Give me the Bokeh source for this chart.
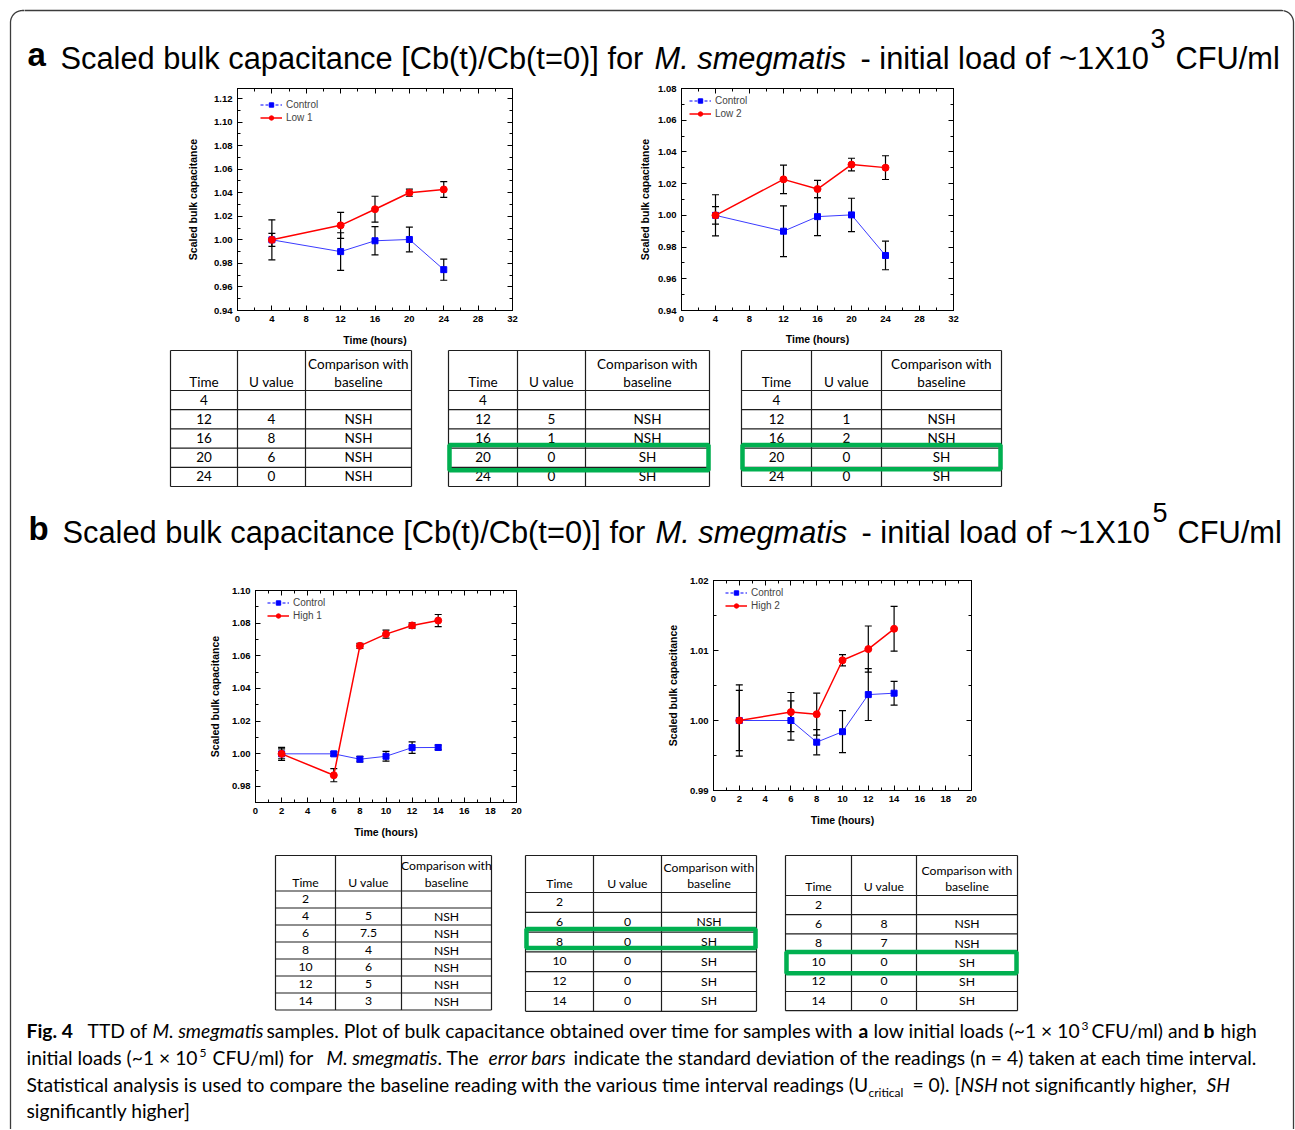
import numpy as np
from bokeh.plotting import figure
from bokeh.models import (Range1d, LinearAxis, FixedTicker, Legend, LegendItem, Spacer,
                          Whisker, TeeHead, ColumnDataSource, NumeralTickFormatter,
                          CustomJSTickFormatter)
from bokeh.layouts import row, column
from bokeh.core.properties import value
from bokeh.embed import file_html
from bokeh.resources import INLINE

# ---------------- data ----------------
time_low = [4, 12, 16, 20, 24]
control_low = [1.000, 0.990, 0.9992, 1.0003, 0.9747]
control_low_err = [0.0055, 0.016, 0.012, 0.0105, 0.009]
low1 = [1.000, 1.0123, 1.026, 1.040, 1.0428]
low1_err = [0.017, 0.011, 0.011, 0.003, 0.0067]
low2 = [1.000, 1.0227, 1.0166, 1.032, 1.0301]
low2_err = [0.013, 0.009, 0.0055, 0.004, 0.0075]

time_high = [2, 6, 8, 10, 12, 14]
control_high1 = [1.000, 1.000, 0.9967, 0.9985, 1.0038, 1.0039]
control_high1_err = [0.003, 0.0012, 0.0017, 0.003, 0.0035, 0.0015]
high1 = [1.000, 0.9869, 1.0661, 1.0733, 1.0786, 1.0816]
high1_err = [0.004, 0.004, 0.0015, 0.0025, 0.0016, 0.0037]
control_high2 = [1.000, 1.000, 0.9969, 0.9984, 1.0037, 1.0039]
control_high2_err = [0.0043, 0.0028, 0.0018, 0.003, 0.0037, 0.0017]
high2 = [1.000, 1.0012, 1.0009, 1.0086, 1.0102, 1.0131]
high2_err = [0.0051, 0.0028, 0.003, 0.0008, 0.0033, 0.0032]

x_ticks_low = [0, 4, 8, 12, 16, 20, 24, 28, 32]
x_minor_low = [0, 2, 4, 6, 8, 10, 12, 14, 16, 18, 20, 22, 24, 26, 28, 30, 32]
x_ticks_high = [0, 2, 4, 6, 8, 10, 12, 14, 16, 18, 20]
x_minor_high = list(range(0, 21))
y_ticks_low1 = [0.94, 0.96, 0.98, 1.00, 1.02, 1.04, 1.06, 1.08, 1.10, 1.12]
y_ticks_low2 = [0.94, 0.96, 0.98, 1.00, 1.02, 1.04, 1.06, 1.08]
y_ticks_high1 = [0.98, 1.00, 1.02, 1.04, 1.06, 1.08, 1.10]
y_ticks_high2 = [0.99, 1.00, 1.01, 1.02]

# tables
tab_low_time = [4, 12, 16, 20, 24]
tab_low1_u = ["", "4", "8", "6", "0"]
tab_low1_cmp = ["", "NSH", "NSH", "NSH", "NSH"]
tab_low2_u = ["", "5", "1", "0", "0"]
tab_low2_cmp = ["", "NSH", "NSH", "SH", "SH"]
tab_low3_u = ["", "1", "2", "0", "0"]
tab_low3_cmp = ["", "NSH", "NSH", "SH", "SH"]
tab_high1_time = [2, 4, 6, 8, 10, 12, 14]
tab_high1_u = ["", "5", "7.5", "4", "6", "5", "3"]
tab_high1_cmp = ["", "NSH", "NSH", "NSH", "NSH", "NSH", "NSH"]
tab_high_time = [2, 6, 8, 10, 12, 14]
tab_high2_u = ["", "0", "0", "0", "0", "0"]
tab_high2_cmp = ["", "NSH", "SH", "SH", "SH", "SH"]
tab_high3_u = ["", "8", "7", "0", "0", "0"]
tab_high3_cmp = ["", "NSH", "NSH", "SH", "SH", "SH"]

# ---------------- page helpers (page pixel coordinates) ----------------
PAGE_H = 1129
CX0, CX1 = 24, 1283          # centre column extent
BX0, BX1, BY0, BR = 10, 1293, 10, 12
BORDER = "#3c3c3c"
TITLE_FONT = "Liberation Sans"
AX_FONT = "Liberation Sans"
TAB_FONT = "Lato"
CAP_FONT = "Lato"
BASE_SHIFT = 0.41   # alphabetic baseline correction (fraction of font size)


def canvas(x0, x1, y0, y1):
    p = figure(width=x1 - x0, height=y1 - y0, x_range=Range1d(x0, x1), y_range=Range1d(y1, y0),
               output_backend="svg", toolbar_location=None, min_border=0,
               x_axis_location=None, y_axis_location=None)
    p.grid.visible = False
    p.outline_line_color = None
    return p


def txt(p, x, y, s, size, font, style="normal", align="left", baseline="alphabetic"):
    if baseline == "alphabetic":
        y = y - BASE_SHIFT * size
    p.text(x=[x], y=[y], text=[s], text_font=value(font), text_font_size=f"{size}px",
           text_font_style=style, text_align=align, text_baseline=baseline, text_color="black")


def make_chart(width, height, mb, xr, yr, xt, xminor, yt, yminor,
               t, ctrl, ctrl_err, ser, ser_err, label, leg_xy, ylab_standoff, xlab_standoff):
    l, r, tp, b = mb
    p = figure(width=width, height=height, x_range=Range1d(*xr), y_range=Range1d(*yr),
               output_backend="svg", toolbar_location=None,
               min_border_left=l, min_border_right=r, min_border_top=tp, min_border_bottom=b)
    p.grid.visible = False
    p.outline_line_color = "black"
    p.outline_line_width = 1
    p.add_layout(LinearAxis(), "above")
    p.add_layout(LinearAxis(), "right")
    for ax in p.xaxis:
        ax.ticker = FixedTicker(ticks=xt, minor_ticks=xminor)
        ax.formatter = NumeralTickFormatter(format="0")
    for ax in p.yaxis:
        ax.ticker = FixedTicker(ticks=yt, minor_ticks=yminor)
        ax.formatter = NumeralTickFormatter(format="0.00")
    for ax in list(p.xaxis) + list(p.yaxis):
        ax.major_tick_in = 5
        ax.major_tick_out = 0
        ax.minor_tick_in = 3
        ax.minor_tick_out = 0
        ax.axis_line_color = "black"
        ax.major_tick_line_color = "black"
        ax.minor_tick_line_color = "black"
        ax.major_label_text_font = AX_FONT
        ax.major_label_text_font_style = "bold"
        ax.major_label_text_font_size = "9.5px"
        ax.major_label_text_color = "black"
        ax.major_label_standoff = 5
        ax.axis_label_text_font = AX_FONT
        ax.axis_label_text_font_style = "bold"
        ax.axis_label_text_font_size = "10.5px"
        ax.axis_label_text_color = "black"
    for ax in (p.above[0], p.right[0]):
        # mirrored axes: ticks only
        ax.formatter = CustomJSTickFormatter(code="return ''")
        ax.major_label_text_font_size = "1px"
        ax.major_label_standoff = 0
    p.below[0].axis_label = "Time (hours)"
    p.below[0].axis_label_standoff = xlab_standoff
    p.left[0].axis_label = "Scaled bulk capacitance"
    p.left[0].axis_label_standoff = ylab_standoff

    for vals, errs in ((ctrl, ctrl_err), (ser, ser_err)):
        src = ColumnDataSource(dict(x=t, lo=[v - e for v, e in zip(vals, errs)],
                                    hi=[v + e for v, e in zip(vals, errs)]))
        w = Whisker(source=src, base="x", lower="lo", upper="hi", line_color="black", line_width=1.2,
                    upper_head=TeeHead(size=7, line_color="black", line_width=1.2),
                    lower_head=TeeHead(size=7, line_color="black", line_width=1.2))
        p.add_layout(w)

    p.line(t, ctrl, line_color="#3b3bff", line_width=1)
    sq = p.scatter(t, ctrl, marker="square", size=6, fill_color="blue", line_color="blue")
    dash = p.line([float("nan")], [float("nan")], line_color="blue", line_dash="3 2", line_width=1)
    rl = p.line(t, ser, line_color="red", line_width=1.5)
    rc = p.scatter(t, ser, marker="circle", size=7, fill_color="red", line_color="red")

    leg = Legend(items=[LegendItem(label="Control", renderers=[dash, sq]),
                        LegendItem(label=label, renderers=[rl, rc])],
                 location=leg_xy, border_line_color=None, background_fill_alpha=0,
                 label_text_font=AX_FONT, label_text_font_size="10px",
                 glyph_width=22, glyph_height=11, label_height=12, label_standoff=4,
                 spacing=1, padding=0, margin=0)
    p.add_layout(leg)
    return p


def draw_table(p, cols, top, header_h, row_h, times, uvals, cmps, fs, hl=None):
    n = len(times)
    bottom = top + header_h + n * row_h
    p.multi_line(xs=[[c, c] for c in cols], ys=[[top, bottom]] * len(cols),
                 line_color="#1e1e1e", line_width=1.2)
    ys = [top, top + header_h] + [top + header_h + (i + 1) * row_h for i in range(n)]
    p.multi_line(xs=[[cols[0], cols[-1]]] * len(ys), ys=[[y, y] for y in ys],
                 line_color="#1e1e1e", line_width=1.2)
    cx = [(cols[i] + cols[i + 1]) / 2 for i in range(3)]
    l2 = top + header_h - 9
    l1 = l2 - 1.32 * fs
    for x, s, y in ((cx[0], "Time", l2), (cx[1], "U value", l2),
                    (cx[2], "Comparison with", l1), (cx[2], "baseline", l2)):
        txt(p, x, y, s, fs, TAB_FONT, align="center", baseline="middle")
    ry = [top + header_h + (i + 0.5) * row_h - 0.5 for i in range(n)]
    for x, vals in ((cx[0], [str(v) for v in times]), (cx[1], uvals), (cx[2], cmps)):
        p.text(x=[x] * n, y=ry, text=vals, text_font=value(TAB_FONT), text_font_size=f"{fs}px",
               text_align="center", text_baseline="middle", text_color="black")
    if hl is not None:
        i, dt, db, inset = hl
        y0 = top + header_h + i * row_h + dt
        y1 = top + header_h + (i + 1) * row_h + db
        p.quad(left=[cols[0] + inset], right=[cols[-1] - inset], top=[y0], bottom=[y1],
               fill_alpha=0, line_color="#00b050", line_width=4.5)


# ---------------- outer frame (rounded top corners) ----------------
arc = np.linspace(0, np.pi / 2, 16)
frame_x = ([BX0, BX0] + list(BX0 + BR - BR * np.cos(arc)) + list(BX1 - BR + BR * np.sin(arc))
           + [BX1, BX1])
frame_y = ([PAGE_H, BY0 + BR] + list(BY0 + BR - BR * np.sin(arc)) + list(BY0 + BR - BR * np.cos(arc))
           + [BY0 + BR, PAGE_H])
left_strip = canvas(0, CX0, 0, PAGE_H)
left_strip.line(frame_x, frame_y, line_color=BORDER, line_width=1.3)
right_strip = canvas(CX1, 1295, 0, PAGE_H)
right_strip.line(frame_x, frame_y, line_color=BORDER, line_width=1.3)

# ---------------- row 1: title a ----------------
r1 = canvas(CX0, CX1, 0, 83)
r1.line(frame_x, frame_y, line_color=BORDER, line_width=1.3)
TS = 30.8
txt(r1, 27, 68, "a", 33, TITLE_FONT, "bold")
txt(r1, 60, 71, "Scaled bulk capacitance [Cb(t)/Cb(t=0)] for", TS, TITLE_FONT)
txt(r1, 654, 71, "M. smegmatis", TS, TITLE_FONT, "italic")
txt(r1, 860, 71, "- initial load of ~1X10", TS, TITLE_FONT)
txt(r1, 1150, 49, "3", 27, TITLE_FONT)
txt(r1, 1175, 71, "CFU/ml", TS, TITLE_FONT)

# ---------------- row 2: charts a ----------------
c1 = make_chart(410, 265, (87, 48, 5, 38), (0, 32), (0.94, 1.1285), x_ticks_low, x_minor_low,
                y_ticks_low1, list(np.round(np.arange(0.94, 1.125, 0.01), 3)),
                time_low, control_low, control_low_err, low1, low1_err, "Low 1",
                (23, 186.5), 12, 9)
c2 = make_chart(440, 265, (121, 47, 5, 38), (0, 32), (0.94, 1.08), x_ticks_low, x_minor_low,
                y_ticks_low2, list(np.round(np.arange(0.94, 1.085, 0.01), 3)),
                time_low, control_low, control_low_err, low2, low2_err, "Low 2",
                (8, 190.5), 4, 8)
row2 = row(Spacer(width=150 - CX0, height=265), c1, c2, Spacer(width=CX1 - 1000, height=265))

# ---------------- row 3: tables a ----------------
r3 = canvas(CX0, CX1, 348, 490)
draw_table(r3, [170, 237, 305, 411], 350, 40, 19.2, tab_low_time, tab_low1_u, tab_low1_cmp, 13.5)
draw_table(r3, [448, 517, 585, 709], 350, 40, 19.2, tab_low_time, tab_low2_u, tab_low2_cmp, 13.5,
           hl=(3, -3, 3, 1))
draw_table(r3, [741, 811, 881, 1001], 350, 40, 19.2, tab_low_time, tab_low3_u, tab_low3_cmp, 13.5,
           hl=(3, -3, 2, 1))

# ---------------- row 4: title b ----------------
r4 = canvas(CX0, CX1, 490, 568)
txt(r4, 28, 542, "b", 33, TITLE_FONT, "bold")
txt(r4, 62, 545, "Scaled bulk capacitance [Cb(t)/Cb(t=0)] for", TS, TITLE_FONT)
txt(r4, 655, 545, "M. smegmatis", TS, TITLE_FONT, "italic")
txt(r4, 861, 545, "- initial load of ~1X10", TS, TITLE_FONT)
txt(r4, 1152, 523, "5", 27, TITLE_FONT)
txt(r4, 1177, 545, "CFU/ml", TS, TITLE_FONT)

# ---------------- row 5: charts b ----------------
c3 = make_chart(440, 267, (95, 84, 12, 43), (0, 20), (0.9702, 1.10), x_ticks_high, x_minor_high,
                y_ticks_high1, list(np.round(np.arange(0.97, 1.105, 0.01), 3)),
                time_high, control_high1, control_high1_err, high1, high1_err, "High 1",
                (12, 181), 8, 9)
c4 = make_chart(440, 265, (113, 69, 12, 43), (0, 20), (0.99, 1.02), x_ticks_high, x_minor_high,
                y_ticks_high2, list(np.round(np.arange(0.99, 1.0205, 0.005), 4)),
                time_high, control_high2, control_high2_err, high2, high2_err, "High 2",
                (12, 179), 8, 9)
row5 = row(Spacer(width=160 - CX0, height=277),
           column(Spacer(width=440, height=10), c3),
           column(c4, Spacer(width=440, height=12)),
           Spacer(width=CX1 - 1040, height=277))

# ---------------- row 6: tables b ----------------
r6 = canvas(CX0, CX1, 845, 1016)
draw_table(r6, [275, 335, 401, 491], 855, 35.5, 17, tab_high1_time, tab_high1_u, tab_high1_cmp, 12.2)
draw_table(r6, [525, 593, 661, 756], 855, 37, 19.8, tab_high_time, tab_high2_u, tab_high2_cmp, 12.2,
           hl=(2, -3, -4, 1))
draw_table(r6, [785, 851, 916, 1017], 855, 40, 19.2, tab_high_time, tab_high3_u, tab_high3_cmp, 12.2,
           hl=(3, -1, 1, 1))

# ---------------- row 7: caption ----------------
r7 = canvas(CX0, CX1, 1016, PAGE_H)
cap_base = [1038, 1065, 1092, 1118]
CS = 19.3
caption = [
    (0, 26, "Fig. 4", "bold", ""),
    (0, 87, "TTD of", "normal", ""),
    (0, 152, "M. smegmatis", "italic", ""),
    (0, 266, "samples. Plot of bulk capacitance obtained over time for samples with", "normal", ""),
    (0, 858, "a", "bold", ""),
    (0, 873, "low initial loads (~1 \u00d7 10", "normal", ""),
    (0, 1081, "3", "normal", "sup"),
    (0, 1091, "CFU/ml) and", "normal", ""),
    (0, 1203, "b", "bold", ""),
    (0, 1220, "high", "normal", ""),
    (1, 26, "initial loads (~1 \u00d7 10", "normal", ""),
    (1, 199, "5", "normal", "sup"),
    (1, 212, "CFU/ml) for", "normal", ""),
    (1, 326, "M. smegmatis", "italic", ""),
    (1, 437, ". The", "normal", ""),
    (1, 488, "error bars", "italic", ""),
    (1, 573, "indicate the standard deviation of the readings (n = 4) taken at each time interval.", "normal", ""),
    (2, 26, "Statistical analysis is used to compare the baseline reading with the various time interval readings (U", "normal", ""),
    (2, 868, "critical", "normal", "sub"),
    (2, 912, "= 0). [", "normal", ""),
    (2, 960, "NSH", "italic", ""),
    (2, 1001, "not significantly higher,", "normal", ""),
    (2, 1206, "SH", "italic", ""),
    (3, 26, "significantly higher]", "normal", ""),
]
for ln, x, s, st, kind in caption:
    y = cap_base[ln]
    size = CS
    if kind == "sup":
        y -= 8
        size = 12
    elif kind == "sub":
        y += 5
        size = 12
    txt(r7, x, y, s, size, CAP_FONT, st)

centre = column(r1, row2, r3, r4, row5, r6, r7)
layout = row(left_strip, centre, right_strip)
open("out.html", "w").write(file_html(layout, INLINE))
